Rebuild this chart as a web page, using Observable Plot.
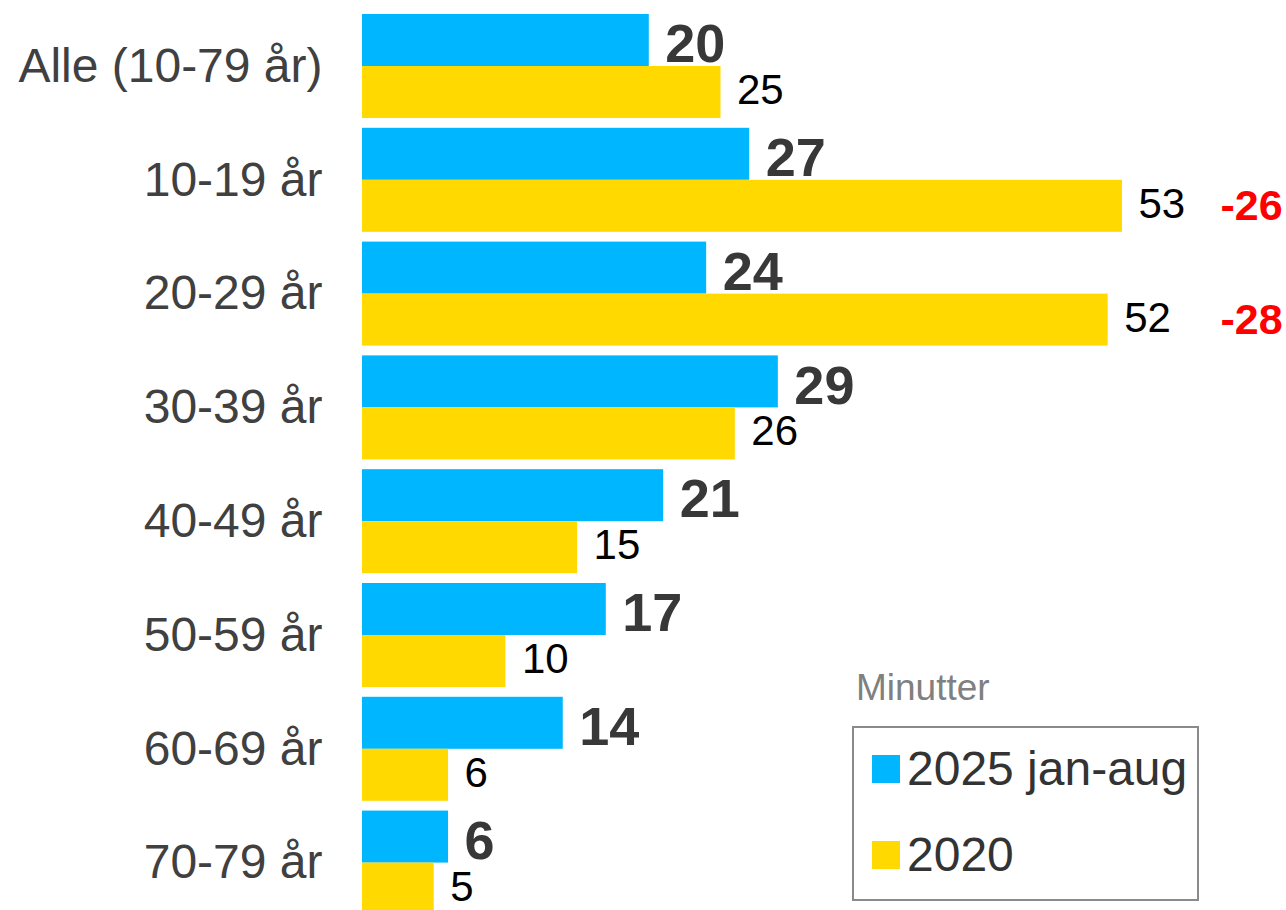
<!DOCTYPE html>
<html>
<head>
<meta charset="utf-8">
<script src="https://cdn.jsdelivr.net/npm/d3@7"></script>
<script src="https://cdn.jsdelivr.net/npm/@observablehq/plot@0.6"></script>
<style>
  html, body { margin: 0; padding: 0; background: #fff; }
  #wrap { position: relative; width: 1286px; height: 910px; overflow: hidden; font-family: "Liberation Sans", Arial, sans-serif; }
  #legend-title { position: absolute; left: 856px; top: 667px; font-size: 37px; color: #808080; }
  #legend { position: absolute; left: 852px; top: 726px; width: 343px; height: 171px; border: 2px solid #8a8a8a; }
  .item { position: absolute; left: 18px; display: flex; align-items: center; font-size: 48px; color: #333; }
  .sw { width: 28px; height: 28px; margin-right: 7px; }
</style>
</head>
<body>
<div id="wrap"></div>
<script>
const categories = ["Alle (10-79 år)", "10-19 år", "20-29 år", "30-39 år", "40-49 år", "50-59 år", "60-69 år", "70-79 år"];
const values2025 = [20, 27, 24, 29, 21, 17, 14, 6];
const values2020 = [25, 53, 52, 26, 15, 10, 6, 5];
const diffCategories = ["10-19 år", "20-29 år"];
const diffLabels = ["-26", "-28"];
const seriesNames = ["2025 jan-aug", "2020"];
const legendTitle = "Minutter";

const colors = ["#00B6FF", "#FFD900"];
const yRange = [14, 914.6];
const pad = 0.086;
const bw = d3.scaleBand().domain(categories).range(yRange).paddingInner(pad).paddingOuter(0).bandwidth();
const half = bw / 2;
const diffX = 62;

const d2025 = categories.map((c, i) => ({cat: c, value: values2025[i]}));
const d2020 = categories.map((c, i) => ({cat: c, value: values2020[i]}));
const dDiff = diffCategories.map((c, i) => ({cat: c, label: diffLabels[i]}));

const chart = Plot.plot({
  width: 1286,
  height: 910,
  marginLeft: 362,
  marginRight: 164,
  marginTop: 14,
  marginBottom: 0,
  style: {fontFamily: "'Liberation Sans', Arial, sans-serif", background: "transparent"},
  x: {domain: [0, 53], axis: null},
  y: {domain: categories, range: yRange, paddingInner: pad, paddingOuter: 0, round: false, label: null},
  marks: [
    Plot.barX(d2025, {x: "value", y: "cat", fill: colors[0], insetBottom: half}),
    Plot.barX(d2020, {x: "value", y: "cat", fill: colors[1], insetTop: half}),
    Plot.text(d2025, {x: "value", y: "cat", text: d => String(d.value), dx: 16, dy: -half / 2 + 4.5,
      textAnchor: "start", fontSize: 54, fontWeight: "bold", fill: "#383838"}),
    Plot.text(d2020, {x: "value", y: "cat", text: d => String(d.value), dx: 16, dy: half / 2 - 2,
      textAnchor: "start", fontSize: 42, fill: "#000"}),
    Plot.text(dDiff, {x: d => diffX, y: "cat", text: "label", dy: half / 2,
      textAnchor: "middle", fontSize: 43, fontWeight: "bold", fill: "#FF0000"}),
    Plot.axisY({tickSize: 0, tickPadding: 40, fontSize: 48, fill: "#404040", label: null})
  ]
});

const wrap = document.getElementById("wrap");
wrap.appendChild(chart);

const t = document.createElement("div");
t.id = "legend-title";
t.textContent = legendTitle;
wrap.appendChild(t);

const lg = document.createElement("div");
lg.id = "legend";
seriesNames.forEach((name, i) => {
  const it = document.createElement("div");
  it.className = "item";
  it.style.top = (i === 0 ? 13 : 99) + "px";
  const sw = document.createElement("div");
  sw.className = "sw";
  sw.style.background = colors[i];
  const tx = document.createElement("span");
  tx.textContent = name;
  it.appendChild(sw);
  it.appendChild(tx);
  lg.appendChild(it);
});
wrap.appendChild(lg);
</script>
</body>
</html>
